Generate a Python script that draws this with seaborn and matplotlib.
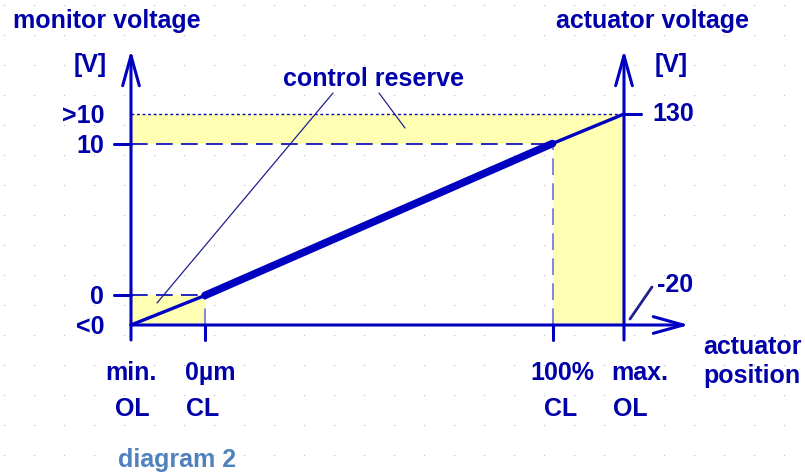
import numpy as np
import pandas as pd
import matplotlib
matplotlib.use("Agg")
import matplotlib.pyplot as plt
import seaborn as sns

# chart values (normalised positions along the actuator / voltage axes)
x_pos = [0.0, 0.15, 0.855, 1.0]        # min. OL, 0µm CL, 100% CL, max. OL
y_pos = [0.0, 0.14, 0.86, 1.0]         # <0, 0, 10, >10
x_top = ["min.", "0µm", "100%", "max."]
x_bottom = ["OL", "CL", "CL", "OL"]
y_labels = ["<0", "0", "10", ">10"]
right_top = "130"
right_bottom = "-20"

TXT = "#0000AA"
LINE = "#0000C0"
YELLOW = "#FFFFB4"

sns.set_theme(style="white")
plt.rcParams["font.family"] = ["Liberation Sans", "DejaVu Sans"]
plt.rcParams["font.weight"] = "bold"

W, H = 805, 472
X0, Y0, SX, SY = 131, 325, 493, 211


def px(x, y):
    """pixel position -> data coordinates"""
    return (x - X0) / SX, (Y0 - y) / SY


fig = plt.figure(figsize=(W / 100, H / 100), dpi=100)
ax = fig.add_axes([0, 0, 1, 1])
ax.set_xlim(px(0, 0)[0], px(W, 0)[0])
ax.set_ylim(px(0, H)[1], px(0, 0)[1])
ax.axis("off")

# dotted background grid
gx, gy = np.meshgrid(np.arange(4, W, 30), np.arange(5, H, 30))
ax.scatter((gx.ravel() - X0) / SX, (Y0 - gy.ravel()) / SY, s=1.2,
           color="#c8c8c8", zorder=0, linewidths=0)

# yellow control reserve areas
ax.fill_between([x_pos[0], x_pos[3]], y_pos[2], y_pos[3], color=YELLOW, lw=0, zorder=1)
ax.fill_between([x_pos[2], x_pos[3]], y_pos[0], y_pos[3], color=YELLOW, lw=0, zorder=1)
ax.fill_between([x_pos[0], x_pos[1]], y_pos[0], y_pos[1], color=YELLOW, lw=0, zorder=1)

# helper lines
ax.plot([x_pos[0], x_pos[3]], [y_pos[3]] * 2, color=LINE, lw=1.0, ls=(0, (2, 2)), zorder=2)
ax.plot([x_pos[0], x_pos[2]], [y_pos[2]] * 2, color=LINE, lw=1.2, ls=(0, (10, 5)), zorder=2)
ax.plot([x_pos[0], x_pos[1]], [y_pos[1]] * 2, color=LINE, lw=1.2, ls=(0, (10, 5)), zorder=2)
ax.plot([x_pos[2]] * 2, [y_pos[0], y_pos[2]], color="#7070E0", lw=1.2, ls=(0, (10, 5)), zorder=2)
ax.plot([x_pos[1]] * 2, [y_pos[0], y_pos[1]], color="#7070E0", lw=1.2, ls=(0, (10, 5)), zorder=2)

# axes with open arrow heads
arrow = dict(arrowstyle="->,head_length=1.8,head_width=0.5", lw=2.2,
             color=LINE, shrinkA=0, shrinkB=0)
low = px(0, 340)[1]
ax.annotate("", xy=(x_pos[0], px(0, 50)[1]), xytext=(x_pos[0], low), arrowprops=arrow, zorder=4)
ax.annotate("", xy=(x_pos[3], px(0, 50)[1]), xytext=(x_pos[3], low), arrowprops=arrow, zorder=4)
ax.annotate("", xy=(px(689, 0)[0], y_pos[0]), xytext=(x_pos[0], y_pos[0]), arrowprops=arrow, zorder=4)

# tick marks
tick_len_x = 17 / SX
for yv in y_pos[1:3]:
    ax.plot([x_pos[0] - tick_len_x, x_pos[0]], [yv, yv], color=LINE, lw=2.2, zorder=4)
ax.plot([x_pos[3], x_pos[3] + tick_len_x], [y_pos[3]] * 2, color=LINE, lw=2.2, zorder=4)
for xv in x_pos[1:3]:
    ax.plot([xv, xv], [y_pos[0], low], color=LINE, lw=2.2, zorder=4)

# characteristic line
curve = pd.DataFrame({"x": x_pos, "y": y_pos})
ax.plot(curve.x[:2], curve.y[:2], color=LINE, lw=2.4, zorder=5)
ax.plot(curve.x[2:], curve.y[2:], color=LINE, lw=2.4, zorder=5)
sns.lineplot(data=curve.iloc[1:3], x="x", y="y", ax=ax, color=LINE, lw=5.5,
             solid_capstyle="round", zorder=6)
ax.set_xlabel("")
ax.set_ylabel("")

# leader lines
for a, b in [((333, 93), (157, 303)), ((379, 93), (405, 128)), ((652, 287), (630, 319))]:
    pa, pb = px(*a), px(*b)
    ax.plot([pa[0], pb[0]], [pa[1], pb[1]], color="#202090",
            lw=0.9 if a[0] < 600 else 2.0, zorder=7)

fs = 18
kw = dict(color=TXT, fontsize=fs, fontweight="bold", zorder=8)

# axis titles
ax.text(*px(13, 28), "monitor voltage", ha="left", va="baseline", **kw)
ax.text(*px(556, 28), "actuator voltage", ha="left", va="baseline", **kw)
ax.text(*px(107, 72), "[V]", ha="right", va="baseline", **kw)
ax.text(*px(655, 72), "[V]", ha="left", va="baseline", **kw)
ax.text(*px(703, 354), "actuator", ha="left", va="baseline", **kw)
ax.text(*px(703, 383), "position", ha="left", va="baseline", **kw)
ax.text(*px(283, 86), "control reserve", ha="left", va="baseline", **kw)

# left tick labels
for yv, lab in zip(y_pos, y_labels):
    ax.text(px(104, 0)[0], yv - 2 / SY, lab, ha="right", va="center", **kw)

# right tick labels
ax.text(px(652, 0)[0], y_pos[3], right_top, ha="left", va="center", **kw)
ax.text(*px(657, 292), right_bottom, ha="left", va="baseline", **kw)

# bottom tick labels
top_shift = [0, 5, 10, 16]
bot_shift = [1, -2, 8, 6]
for xv, t, b, s1, s2 in zip(x_pos, x_top, x_bottom, top_shift, bot_shift):
    ax.text(xv + s1 / SX, px(0, 380)[1], t, ha="center", va="baseline", **kw)
    ax.text(xv + s2 / SX, px(0, 416)[1], b, ha="center", va="baseline", **kw)

ax.text(*px(118, 467), "diagram 2", ha="left", va="baseline", color="#4F81BD",
        fontsize=fs, fontweight="bold")

fig.savefig("out.png", dpi=100)
